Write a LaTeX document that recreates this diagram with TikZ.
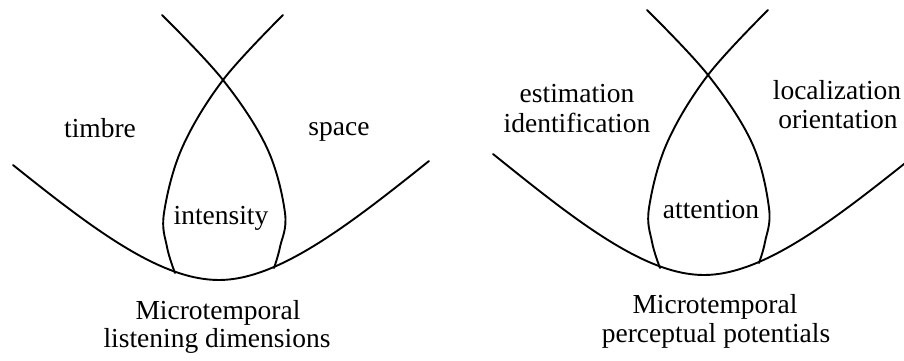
\documentclass[tikz,border=0pt]{standalone}
\usepackage{fontspec}
\setmainfont{Liberation Serif}
\begin{document}
\begin{tikzpicture}[x=1pt,y=-1pt,
  curve/.style={line width=1.9pt,line cap=round,line join=round},
  lbl/.style={anchor=base,inner sep=0pt,font=\fontsize{27.5}{29}\selectfont}]
\useasboundingbox (0,0) rectangle (904,360);
% ---------- left diagram ----------
\draw[curve] (13,165) .. controls (93,229) and (160,280) .. (219,280)
                      .. controls (278,280) and (349,225) .. (429,161);
\draw[curve] plot[smooth,tension=0.6] coordinates {(162,15) (223,80) (267,148) (285,213) (280,247) (274,268)};
\draw[curve] plot[smooth,tension=0.6] coordinates {(283,15) (223,80) (182,148) (164,213) (167,247) (175,273)};
\node[lbl] (timbre) at (100,137) {timbre};
\node[lbl] (space) at (339,135) {space};
\node[lbl] (intensity) at (221,224) {intensity};
\node[lbl] (capL1) at (218,319) {Microtemporal};
\node[lbl] (capL2) at (217,347) {listening dimensions};
% ---------- right diagram ----------
\draw[curve] (493,154) .. controls (575,220) and (644,275) .. (704,275)
                       .. controls (763,275) and (834,220) .. (914,156);
\begin{scope}[shift={(485,-5)}]
\draw[curve] plot[smooth,tension=0.6] coordinates {(162,15) (223,80) (267,148) (284,213) (280,247) (274,268)};
\draw[curve] plot[smooth,tension=0.6] coordinates {(283,15) (223,80) (182,148) (164,213) (167,247) (175,273)};
\end{scope}
\node[lbl] (est) at (577,102) {estimation};
\node[lbl] (ident) at (577,132) {identification};
\node[lbl] (loc) at (837,99) {localization};
\node[lbl] (orient) at (838,128) {orientation};
\node[lbl] (attention) at (711,218) {attention};
\node[lbl] (capR1) at (715,313) {Microtemporal};
\node[lbl] (capR2) at (716,342) {perceptual potentials};
\end{tikzpicture}
\end{document}
